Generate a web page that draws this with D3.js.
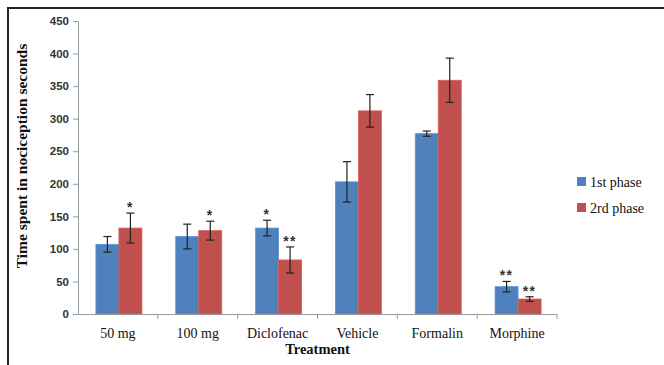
<!DOCTYPE html>
<html>
<head>
<meta charset="utf-8">
<script src="https://cdn.jsdelivr.net/npm/d3@7"></script>
<style>
  body { margin: 0; background: #fff; }
  svg { display: block; }
</style>
</head>
<body>
<script>
// Chart data
var treatments = ["50 mg", "100 mg", "Diclofenac", "Vehicle", "Formalin", "Morphine"];
var phases = ["1st phase", "2rd phase"];
var phase1 = [107, 119, 132, 203, 277, 42];
var phase2 = [132, 128, 83, 312, 359, 23];
var err1 = [12, 19, 12, 31, 4, 8];
var err2 = [23, 14.5, 20, 25, 34, 3.5];
var stars1 = ["", "", "*", "", "", "**"];
var stars2 = ["*", "*", "**", "", "", "**"];
var yTicks = [0, 50, 100, 150, 200, 250, 300, 350, 400, 450];

var svgWidth = 664;
var svgHeight = 365;
var margin = { top: 21, right: 107, bottom: 51, left: 78 };
var width = svgWidth - margin.left - margin.right;
var height = svgHeight - margin.top - margin.bottom;

var colors = ["#4F81BD", "#C0504D"];
var serif = "'Liberation Serif', 'Times New Roman', serif";

var root = d3.select("body")
  .append("svg")
  .attr("width", svgWidth)
  .attr("height", svgHeight);

// frame
root.append("path")
  .attr("d", "M8," + svgHeight + "V8H" + svgWidth)
  .attr("fill", "none")
  .attr("stroke", "#222")
  .attr("stroke-width", 2);

var svg = root.append("g")
  .attr("transform", "translate(" + margin.left + "," + margin.top + ")");

var x0 = d3.scaleBand().domain(treatments).range([0, width]).paddingInner(0).paddingOuter(0);
var x1 = d3.scaleBand().domain(phases).range([0, 46]);
var y = d3.scaleLinear().domain([0, 450]).range([height, 0]);

var rows = treatments.map(function (t, i) {
  return [
    { t: t, p: phases[0], v: phase1[i], e: err1[i], s: stars1[i], c: colors[0] },
    { t: t, p: phases[1], v: phase2[i], e: err2[i], s: stars2[i], c: colors[1] }
  ];
});

var groups = svg.selectAll(".grp")
  .data(rows)
  .enter().append("g")
  .attr("class", "grp")
  .attr("transform", function (d) {
    return "translate(" + (x0(d[0].t) + (x0.bandwidth() - 46) / 2 + 1) + ",0)";
  });

var items = groups.selectAll(".it")
  .data(function (d) { return d; })
  .enter().append("g")
  .attr("class", "it");

items.append("rect")
  .attr("x", function (d) { return x1(d.p); })
  .attr("y", function (d) { return y(d.v); })
  .attr("width", x1.bandwidth())
  .attr("height", function (d) { return height - y(d.v); })
  .attr("fill", function (d) { return d.c; })
  .attr("stroke", function (d) { return d3.color(d.c).brighter(0.4); })
  .attr("stroke-width", 0.8);

// error bars
var cx = function (d) { return x1(d.p) + x1.bandwidth() / 2; };
items.append("line")
  .attr("x1", cx).attr("x2", cx)
  .attr("y1", function (d) { return y(d.v + d.e); })
  .attr("y2", function (d) { return y(d.v - d.e); })
  .attr("stroke", "#222").attr("stroke-width", 1.2);
items.append("line")
  .attr("x1", function (d) { return cx(d) - 4; })
  .attr("x2", function (d) { return cx(d) + 4; })
  .attr("y1", function (d) { return y(d.v + d.e); })
  .attr("y2", function (d) { return y(d.v + d.e); })
  .attr("stroke", "#222").attr("stroke-width", 1.2);
items.append("line")
  .attr("x1", function (d) { return cx(d) - 4; })
  .attr("x2", function (d) { return cx(d) + 4; })
  .attr("y1", function (d) { return y(d.v - d.e); })
  .attr("y2", function (d) { return y(d.v - d.e); })
  .attr("stroke", "#222").attr("stroke-width", 1.2);

// significance stars
items.append("text")
  .attr("x", cx)
  .attr("y", function (d) { return y(d.v + d.e) - 1; })
  .attr("text-anchor", "middle")
  .style("font-family", "'Liberation Sans', sans-serif")
  .style("font-weight", "bold")
  .style("font-size", "14px")
  .style("letter-spacing", "1.5px")
  .attr("fill", "#3a3030")
  .text(function (d) { return d.s; });

// axes
var leftAxis = d3.axisLeft(y).tickValues(yTicks).tickSize(5).tickSizeOuter(0);
var gy = svg.append("g").call(leftAxis);
gy.select(".domain").attr("stroke", "#999");
gy.selectAll(".tick line").attr("stroke", "#999");
gy.selectAll(".tick text")
  .attr("x", -9)
  .attr("fill", "#333")
  .style("font-family", "'Liberation Sans', Arial, sans-serif")
  .style("font-weight", "bold")
  .style("font-size", "11.5px");

var bottomAxis = d3.axisBottom(x0).tickSize(0);
var gx = svg.append("g")
  .attr("transform", "translate(0," + height + ")")
  .attr("font-family", serif)
  .call(bottomAxis);
gx.attr("font-family", serif).attr("font-size", 14);
gx.select(".domain").attr("stroke", "#999");
gx.selectAll(".tick text")
  .attr("y", 14)
  .attr("fill", "#111")
  .style("font-family", serif)
  .style("font-size", "14px");

// band boundary ticks
svg.selectAll(".bt")
  .data(treatments)
  .enter().append("line")
  .attr("class", "bt")
  .attr("x1", function (d) { return x0(d) + x0.bandwidth(); })
  .attr("x2", function (d) { return x0(d) + x0.bandwidth(); })
  .attr("y1", height)
  .attr("y2", height + 5)
  .attr("stroke", "#999");

// axis titles
svg.append("text")
  .attr("transform", "rotate(-90)")
  .attr("x", -135)
  .attr("y", -51)
  .attr("text-anchor", "middle")
  .attr("fill", "#111")
  .style("font-family", serif)
  .style("font-weight", "bold")
  .style("font-size", "15.5px")
  .text("Time spent in nociception seconds");

svg.append("text")
  .attr("x", width / 2)
  .attr("y", height + 40)
  .attr("text-anchor", "middle")
  .attr("fill", "#111")
  .style("font-family", serif)
  .style("font-weight", "bold")
  .style("font-size", "14.5px")
  .text("Treatment");

// legend
var legend = root.append("g")
  .attr("transform", "translate(577,177)");
var li = legend.selectAll(".li")
  .data(phases)
  .enter().append("g")
  .attr("transform", function (d, i) { return "translate(0," + (i * 26) + ")"; });
li.append("rect")
  .attr("width", 9).attr("height", 9)
  .attr("fill", function (d, i) { return colors[i]; });
li.append("text")
  .attr("x", 13)
  .attr("y", 10)
  .attr("fill", "#111")
  .style("font-family", serif)
  .style("font-size", "14px")
  .text(function (d) { return d; });
</script>
</body>
</html>
